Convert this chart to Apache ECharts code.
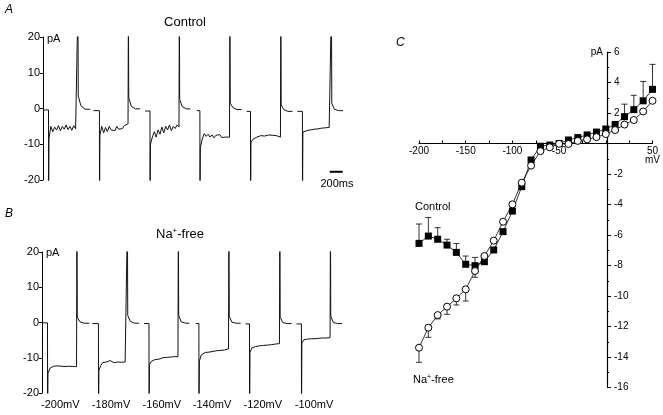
<!DOCTYPE html>
<html lang="en">
<head>
    <meta charset="UTF-8">
    <title>Control / Na+-free currents</title>
    <style>
        html, body { margin: 0; padding: 0; background: #fff; }
        #main { width: 663px; height: 415px; }
    </style>
    <script src="https://cdn.jsdelivr.net/npm/echarts@6/dist/echarts.min.js"></script>
</head>
<body>
<div id="main"></div>
<script type="text/javascript">
    // sweep timing (ms from the start of the panel), same in A and B
    var sweepStart  = [9, 779, 1575, 2372, 3142, 3927];
    var sweepOnset  = [86, 872, 1652, 2422, 3203, 4004];
    var sweepOffset = [539, 1318, 2104, 2884, 3670, 4451];
    var sweepEnd    = [728, 1498, 2273, 3065, 3850, 4629];
    var stepLabels  = ['-200mV', '-180mV', '-160mV', '-140mV', '-120mV', '-100mV'];

    // A: control traces (pA) - baseline, current during the step, tail after the step
    var ctrlBaseline = [-0.4, -0.6, -0.7, -0.6, -0.8, -0.8];
    var ctrlStep = [
        [-8.5, -5.0, -6.5, -5.2, -6.0, -4.8, -6.2, -5.0, -5.8, -4.6, -5.9, -5.0, -6.1, -4.8, -5.7, -5.5],
        [-7.5, -5.0, -6.8, -5.3, -6.5, -5.0, -6.0, -5.5, -6.2, -5.0, -5.8, -5.4, -5.6, -4.8, -5.2, -4.3],
        [-10.0, -8.0, -6.5, -8.0, -6.0, -7.2, -5.2, -6.8, -5.0, -6.0, -4.6, -6.2, -5.0, -5.6, -4.6, -5.2],
        [-11.0, -8.5, -7.0, -7.8, -7.2, -8.0, -7.4, -8.2, -7.5, -7.9, -7.3, -8.1, -7.6, -8.0, -7.5, -8.0],
        [-9.5, -8.6, -8.2, -8.0, -7.8, -7.6, -7.5, -7.7, -7.5, -7.4, -7.6, -7.5, -7.7, -7.6, -7.8, -8.0],
        [-6.6, -6.3, -6.2, -6.0, -6.0, -5.8, -5.8, -5.7, -5.7, -5.6, -5.5, -5.5, -5.4, -5.3, -5.3, -5.2]
    ];
    var ctrlTail = [[3.5, 0.8, -0.2], [3.0, 0.6, -0.1], [2.5, 0.5, -0.1], [1.5, 0.3, -0.3], [1.0, -0.3, -0.8], [1.5, -0.2, -0.6]];

    // B: Na+-free traces (pA)
    var naBaseline = [-0.1, -0.3, -0.3, -0.3, -0.4, -0.4];
    var naStep = [
        [-14.5, -13.0, -12.6, -12.4, -12.8, -12.3, -12.7, -12.4, -12.6, -12.5, -12.7, -12.4, -12.6, -12.5, -12.6, -12.5],
        [-13.5, -12.2, -11.4, -11.8, -11.2, -11.0, -10.8, -11.0, -11.4, -11.6, -11.2, -11.5, -11.3, -11.1, -11.2, -11.0],
        [-12.0, -11.0, -10.6, -10.5, -10.3, -10.4, -10.2, -10.0, -10.1, -9.9, -10.0, -9.8, -9.9, -9.7, -9.8, -9.7],
        [-11.0, -9.2, -8.7, -8.5, -8.4, -8.4, -8.3, -8.2, -8.1, -8.0, -8.0, -7.9, -7.8, -7.8, -7.6, -7.5],
        [-8.5, -7.2, -6.9, -6.8, -6.7, -6.6, -6.6, -6.5, -6.4, -6.4, -6.3, -6.3, -6.2, -6.1, -6.1, -6.0],
        [-5.8, -4.9, -4.8, -4.7, -4.7, -4.6, -4.6, -4.6, -4.5, -4.5, -4.5, -4.4, -4.4, -4.4, -4.3, -4.3]
    ];
    var naTail = [[1.5, 0.2, -0.2], [2.0, 0.3, -0.2], [2.0, 0.2, -0.2], [1.8, 0.1, -0.2], [1.5, 0.0, -0.3], [1.8, 0.0, -0.3]];

    // scale bar (ms)
    var scaleBar = [4424, 4624];

    // C: I-V relation
    var ivVoltage = [-200, -190, -180, -170, -160, -150, -140, -130, -120, -110, -100, -90, -80, -70, -60, -50, -40, -30, -20, -10, 0, 10, 20, 30, 40, 50];
    var ivControl = [-6.55, -6.07, -6.28, -6.66, -7.14, -7.92, -8.01, -7.75, -6.98, -5.78, -4.43, -2.83, -1.08, -0.18, -0.1, 0.0, 0.23, 0.39, 0.56, 0.75, 0.95, 1.25, 1.76, 2.22, 2.8, 3.55];
    var ivNaFree  = [-13.39, -12.08, -11.25, -10.7, -10.15, -9.56, -8.36, -7.38, -6.37, -5.13, -3.99, -2.57, -1.45, -0.5, -0.25, -0.02, -0.03, 0.17, 0.27, 0.42, 0.62, 0.88, 1.24, 1.54, 2.1, 2.8];
    // end of the error bars (null = no bar drawn)
    var ctrlErrEnd = [-5.28, -4.85, -5.52, -6.28, -6.56, -7.38, -7.47, null, null, null, null, null, null, null, null, null, null, null, null, null, null, null, 2.58, 3.16, 4.07, 5.19];
    var naErrEnd   = [-14.35, -12.71, -11.5, -11.2, -10.59, -10.33, -8.77, null, null, null, null, null, null, null, null, null, null, null, null, null, null, null, null, null, null, null];

    var FONT = 'Liberation Sans, Arial, sans-serif';

    // panel C plot area; the axes are shifted onto the origin
    var gridC = { left: 419, top: 52, width: 235, height: 335.5 };
    var cX = { min: -200, max: 50 }, cY = { min: -16, max: 6 };
    var yAxisShift = -gridC.width * (0 - cX.min) / (cX.max - cX.min);
    var xAxisShift = -gridC.height * (0 - cY.min) / (cY.max - cY.min);

    function buildTrace(i, base, step, tail) {
        var on = sweepOnset[i], off = sweepOffset[i];
        var pts = [[sweepStart[i], base], [on - 1, base], [on, -30]];
        var n = step.length, dt = (off - on - 12) / (n - 1);
        for (var k = 0; k < n; k++) {
            pts.push([on + 6 + k * dt, step[k]]);
        }
        pts.push([off, 30]);
        pts.push([off + 5, tail[0]]);
        pts.push([off + 45, tail[1]]);
        pts.push([off + 110, tail[2]]);
        pts.push([sweepEnd[i], tail[2]]);
        return pts;
    }

    function errBars(ys, ends) {
        var out = [];
        for (var i = 0; i < ivVoltage.length; i++) {
            if (ends[i] !== null) out.push([ivVoltage[i], ys[i], ends[i]]);
        }
        return out;
    }

    function pairs(ys) {
        return ivVoltage.map(function (v, i) { return [v, ys[i]]; });
    }

    var series = [];
    for (var i = 0; i < 6; i++) {
        series.push({
            type: 'line', xAxisIndex: 0, yAxisIndex: 0, showSymbol: false, animation: false,
            lineStyle: { color: '#111', width: 1 }, data: buildTrace(i, ctrlBaseline[i], ctrlStep[i], ctrlTail[i])
        });
        series.push({
            type: 'line', xAxisIndex: 1, yAxisIndex: 1, showSymbol: false, animation: false,
            lineStyle: { color: '#111', width: 1 }, data: buildTrace(i, naBaseline[i], naStep[i], naTail[i])
        });
    }
    series.push({
        type: 'line', xAxisIndex: 0, yAxisIndex: 0, showSymbol: false, animation: false,
        lineStyle: { color: '#000', width: 2 }, data: [[scaleBar[0], -17.7], [scaleBar[1], -17.7]]
    });

    var errRender = function (params, api) {
        var p0 = api.coord([api.value(0), api.value(1)]);
        var p1 = api.coord([api.value(0), api.value(2)]);
        return {
            type: 'group',
            children: [
                { type: 'line', shape: { x1: p0[0], y1: p0[1], x2: p1[0], y2: p1[1] }, style: { stroke: '#000', lineWidth: 0.8 } },
                { type: 'line', shape: { x1: p1[0] - 3, y1: p1[1], x2: p1[0] + 3, y2: p1[1] }, style: { stroke: '#000', lineWidth: 0.8 } }
            ]
        };
    };
    series.push({
        type: 'custom', xAxisIndex: 2, yAxisIndex: 2, renderItem: errRender, z: 1, animation: false,
        encode: { x: 0, y: [1, 2] }, data: errBars(ivControl, ctrlErrEnd)
    });
    series.push({
        type: 'custom', xAxisIndex: 2, yAxisIndex: 2, renderItem: errRender, z: 1, animation: false,
        encode: { x: 0, y: [1, 2] }, data: errBars(ivNaFree, naErrEnd)
    });
    series.push({
        name: 'Control', type: 'line', xAxisIndex: 2, yAxisIndex: 2, z: 3, animation: false,
        symbol: 'rect', symbolSize: 7, itemStyle: { color: '#000' },
        lineStyle: { color: '#000', width: 0.8 }, data: pairs(ivControl)
    });
    series.push({
        name: 'Na+-free', type: 'line', xAxisIndex: 2, yAxisIndex: 2, z: 4, animation: false,
        symbol: 'circle', symbolSize: 7, itemStyle: { color: '#fff', borderColor: '#000', borderWidth: 1 },
        lineStyle: { color: '#000', width: 0.8 }, data: pairs(ivNaFree)
    });

    var stepMid = sweepOnset.map(function (t, i) { return (t + sweepOffset[i]) / 2 - 30; });

    function traceY() {
        return {
            type: 'value', min: -20, max: 20, interval: 10,
            axisLine: { show: true, onZero: false, lineStyle: { color: '#000', width: 1 } },
            axisTick: { show: true, length: 3, lineStyle: { color: '#000' } },
            axisLabel: { color: '#000', fontSize: 11, fontFamily: FONT, margin: 3 },
            splitLine: { show: false }
        };
    }

    var myChart = echarts.init(document.getElementById('main'));
    var option = {
        backgroundColor: '#fff',
        animation: false,
        grid: [
            { left: 43, top: 37, width: 302, height: 143 },
            { left: 42, top: 252, width: 302, height: 141 },
            gridC
        ],
        xAxis: [
            { type: 'value', gridIndex: 0, min: 0, max: 4660, show: false },
            {
                type: 'value', gridIndex: 1, min: 0, max: 4660,
                axisLine: { show: false }, axisTick: { show: false }, splitLine: { show: false },
                axisLabel: {
                    customValues: stepMid, color: '#000', fontSize: 11, fontFamily: FONT, margin: 6,
                    formatter: function (v) {
                        var k = stepMid.indexOf(v);
                        return k >= 0 ? stepLabels[k] : '';
                    }
                }
            },
            {
                type: 'value', gridIndex: 2, min: cX.min, max: cX.max, interval: 50,
                position: 'bottom', offset: xAxisShift,
                axisLine: { onZero: false, lineStyle: { color: '#000', width: 1.2 } },
                axisTick: { inside: true, length: 3, lineStyle: { color: '#000' } },
                minorTick: { show: true, splitNumber: 2, length: 3, lineStyle: { color: '#000' } },
                splitLine: { show: false },
                axisLabel: {
                    color: '#000', fontSize: 10, fontFamily: FONT, margin: 3, lineHeight: 9,
                    formatter: function (v) { return v === 0 ? '' : (v === 50 ? '50\nmV' : String(v)); }
                }
            }
        ],
        yAxis: [
            Object.assign(traceY(), { gridIndex: 0 }),
            Object.assign(traceY(), { gridIndex: 1 }),
            {
                type: 'value', gridIndex: 2, min: cY.min, max: cY.max, interval: 2,
                position: 'left', offset: yAxisShift,
                axisLine: { onZero: false, lineStyle: { color: '#000', width: 1.2 } },
                axisTick: { inside: true, length: 4, lineStyle: { color: '#000' } },
                minorTick: { show: true, splitNumber: 2, length: 2, lineStyle: { color: '#000' } },
                splitLine: { show: false },
                axisLabel: {
                    inside: true, color: '#000', fontSize: 10, fontFamily: FONT, margin: 7,
                    formatter: function (v) { return v === 0 ? '' : String(v); }
                }
            }
        ],
        graphic: [
            { type: 'text', left: 5, top: 4, style: { text: 'A', font: 'italic 12px ' + FONT, fill: '#000' } },
            { type: 'text', x: 185, y: 22, style: { text: 'Control', font: '13px ' + FONT, fill: '#000', align: 'center', verticalAlign: 'middle' } },
            { type: 'text', x: 47, y: 39, style: { text: 'pA', font: '11px ' + FONT, fill: '#000', verticalAlign: 'middle' } },
            { type: 'text', x: 337, y: 184, style: { text: '200ms', font: '11px ' + FONT, fill: '#000', align: 'center', verticalAlign: 'middle' } },
            { type: 'text', left: 5, top: 208, style: { text: 'B', font: 'italic 12px ' + FONT, fill: '#000' } },
            {
                type: 'text', x: 180, y: 234, style: {
                    text: '{a|Na}{s|+}{a|-free}', align: 'center', verticalAlign: 'middle', fill: '#000',
                    rich: { a: { fontSize: 13, fontFamily: FONT, fill: '#000' }, s: { fontSize: 8, fontFamily: FONT, fill: '#000', padding: [0, 0, 7, 0] } }
                }
            },
            { type: 'text', x: 46, y: 253, style: { text: 'pA', font: '11px ' + FONT, fill: '#000', verticalAlign: 'middle' } },
            { type: 'text', left: 396, top: 37, style: { text: 'C', font: 'italic 12px ' + FONT, fill: '#000' } },
            { type: 'text', x: 603, y: 52, style: { text: 'pA', font: '10px ' + FONT, fill: '#000', align: 'right', verticalAlign: 'middle' } },
            { type: 'text', x: 415, y: 207, style: { text: 'Control', font: '11px ' + FONT, fill: '#000', verticalAlign: 'middle' } },
            {
                type: 'text', x: 413, y: 380, style: {
                    text: '{a|Na}{s|+}{a|-free}', verticalAlign: 'middle', fill: '#000',
                    rich: { a: { fontSize: 11, fontFamily: FONT, fill: '#000' }, s: { fontSize: 7, fontFamily: FONT, fill: '#000', padding: [0, 0, 6, 0] } }
                }
            }
        ],
        series: series
    };
    myChart.setOption(option);
</script>
</body>
</html>
